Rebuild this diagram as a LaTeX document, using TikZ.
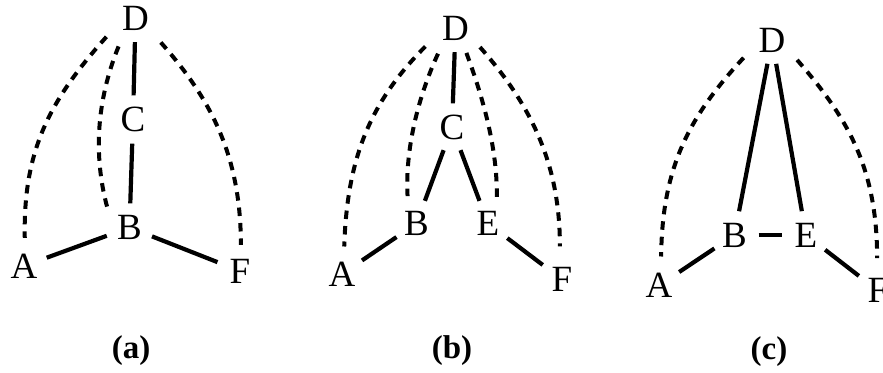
\documentclass[tikz,border=0pt]{standalone}
\usepackage{fontspec}
\setmainfont{Liberation Serif}
\begin{document}
\begin{tikzpicture}[x=1pt,y=-1pt,
  lbl/.style={circle, minimum size=48pt, inner sep=0pt, font=\fontsize{37}{37}\selectfont},
  captext/.style={anchor=base, inner sep=0pt, font=\fontsize{33}{33}\selectfont\bfseries},
  edgeline/.style={line width=4.2pt},
  dotline/.style={line width=4pt, dash pattern=on 8.5pt off 7pt}]
\useasboundingbox (0,0) rectangle (883,372);
% ---------- (a)
\node[lbl] (aD) at (135.5,18) {D};
\node[lbl] (aC) at (133,119.5) {C};
\node[lbl] (aB) at (129.5,227.5) {B};
\node[lbl] (aA) at (24,266) {A};
\node[lbl] (aF) at (240,271) {F};
\draw[edgeline] (aD) -- (aC);
\draw[edgeline] (aC) -- (aB);
\draw[edgeline] (aA) -- (aB);
\draw[edgeline] (aB) -- (aF);
\draw[dotline, shorten <=11pt, shorten >=4pt] (aD.206) .. controls (50,100) and (23,150) .. (aA.88);
\draw[dotline, shorten <=9pt, shorten >=3pt] (aD.236) .. controls (96,102) and (93,158) .. (aB.147);
\draw[dotline, shorten <=11pt, shorten >=2pt] (aD.318) .. controls (210,98) and (241,155) .. (aF.88);
% ---------- (b)
\node[lbl] (bD) at (455.5,28) {D};
\node[lbl] (bC) at (452,127.5) {C};
\node[lbl] (bB) at (416.5,223.5) {B};
\node[lbl] (bE) at (488,223.5) {E};
\node[lbl] (bA) at (342,274) {A};
\node[lbl] (bF) at (562,279.5) {F};
\draw[edgeline] (bD) -- (bC);
\draw[edgeline] (bC) -- (bB);
\draw[edgeline] (bC) -- (bE);
\draw[edgeline] (bA) -- (bB);
\draw[edgeline] (bE) -- (bF);
\draw[dotline, shorten <=11.6pt, shorten >=3.4pt] (bD.205) .. controls (369,103) and (347,160) .. (bA.85);
\draw[dotline, shorten <=7pt, shorten >=4.8pt] (bD.233) .. controls (417.8,97.7) and (405,150) .. (bB.111);
\draw[dotline, shorten <=3pt, shorten >=2pt] (bD.294) .. controls (483,97.7) and (498,150) .. (bE.69);
\draw[dotline, shorten <=7pt, shorten >=9pt] (bD.325) .. controls (532,106) and (560,165) .. (bF.95);
% ---------- (c)
\node[lbl] (cD) at (772,40) {D};
\node[lbl] (cB) at (734.5,235) {B};
\node[lbl] (cE) at (806,235) {E};
\node[lbl] (cA) at (659,285.5) {A};
\node[lbl] (cF) at (878,290.7) {F};
\draw[edgeline] (cD) -- (cB);
\draw[edgeline] (cD) -- (cE);
\draw[edgeline] (cB) -- (cE);
\draw[edgeline] (cA) -- (cB);
\draw[edgeline] (cE) -- (cF);
\draw[dotline, shorten <=9.8pt, shorten >=4.9pt] (cD.206) .. controls (690.7,115) and (662,165) .. (cA.85);
\draw[dotline, shorten <=8pt, shorten >=8.4pt] (cD.325) .. controls (848,118.3) and (877,168) .. (cF.92);
% ---------- captions
\node[captext] (capa) at (131,358) {(a)};
\node[captext] (capb) at (452,358) {(b)};
\node[captext] (capc) at (769,359) {(c)};
\end{tikzpicture}
\end{document}
